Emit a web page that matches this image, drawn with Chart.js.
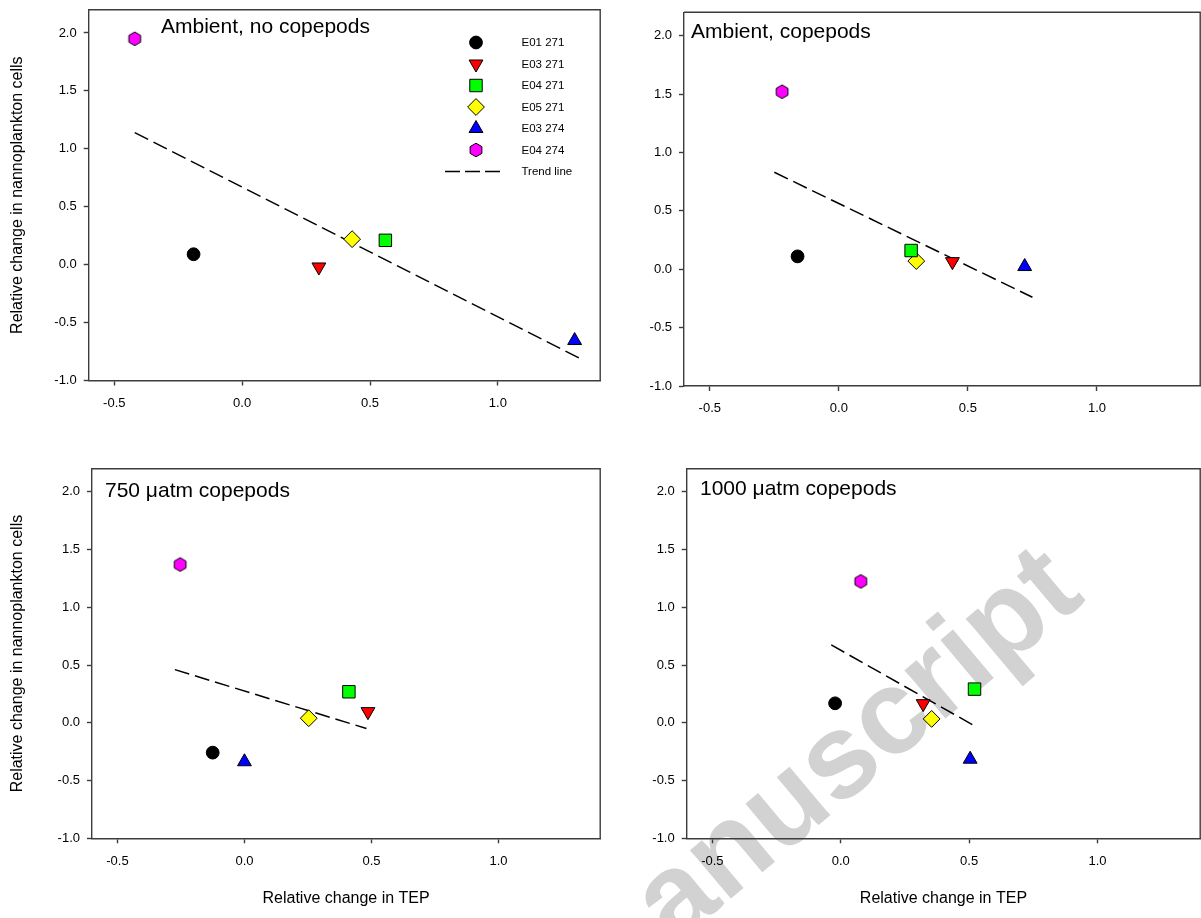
<!DOCTYPE html>
<html>
<head>
<meta charset="utf-8">
<script src="https://cdn.jsdelivr.net/npm/chart.js@4/dist/chart.umd.min.js"></script>
<style>
html,body{margin:0;padding:0;background:#fff;width:1201px;height:918px;overflow:hidden;position:relative;font-family:"Liberation Sans",Arial,sans-serif;}
#wm{position:absolute;left:673px;top:845px;font:bold 120px "Liberation Sans",Arial,sans-serif;line-height:120px;color:#d2d2d2;transform-origin:0 101.6px;transform:rotate(-40deg);white-space:nowrap;}
.panel{position:absolute;width:610px;height:459px;}
canvas{display:block;}
</style>
</head>
<body>
<div id="wm">anuscript</div>
<div class="panel" style="left:0;top:0"><canvas id="c0" width="610" height="459"></canvas></div>
<div class="panel" style="left:600px;top:0"><canvas id="c1" width="610" height="459"></canvas></div>
<div class="panel" style="left:0;top:459px"><canvas id="c2" width="610" height="459"></canvas></div>
<div class="panel" style="left:600px;top:459px"><canvas id="c3" width="610" height="459"></canvas></div>
<script>
// ---------- data ----------
const seriesNames = ['E01 271', 'E03 271', 'E04 271', 'E05 271', 'E03 274', 'E04 274'];
const trendName = 'Trend line';
const xTicks = [-0.5, 0.0, 0.5, 1.0];
const yTicks = [-1.0, -0.5, 0.0, 0.5, 1.0, 1.5, 2.0];
const xTitle = 'Relative change in TEP';
const yTitle = 'Relative change in nannoplankton cells';
const panelTitles = ['Ambient, no copepods', 'Ambient, copepods', '750 \u03bcatm copepods', '1000 \u03bcatm copepods'];

// values in the order of seriesNames
const ambientNoCopX = [-0.19, 0.30, 0.56, 0.43, 1.30, -0.42];
const ambientNoCopY = [0.09, -0.02, 0.21, 0.22, -0.655, 1.95];
const ambientNoCopTrendX = [-0.42, 1.33];
const ambientNoCopTrendY = [1.14, -0.82];

const ambientCopX = [-0.16, 0.44, 0.28, 0.30, 0.72, -0.22];
const ambientCopY = [0.11, 0.065, 0.16, 0.07, 0.023, 1.52];
const ambientCopTrendX = [-0.25, 0.75];
const ambientCopTrendY = [0.83, -0.24];

const co2750X = [-0.125, 0.486, 0.411, 0.253, 0.0, -0.253];
const co2750Y = [-0.258, 0.097, 0.269, 0.04, -0.337, 1.371];
const co2750TrendX = [-0.274, 0.48];
const co2750TrendY = [0.461, -0.049];

const co21000X = [-0.022, 0.321, 0.521, 0.354, 0.504, 0.078];
const co21000Y = [0.169, 0.166, 0.292, 0.034, -0.315, 1.225];
const co21000TrendX = [-0.037, 0.516];
const co21000TrendY = [0.675, -0.02];

// ---------- styles ----------
const FONT = '"Liberation Sans", Arial, sans-serif';
const AXIS_COLOR = '#3c3c3c';
const AXIS_W = 1.4;

function hexagonCanvas() {
  const c = document.createElement('canvas');
  c.width = 16; c.height = 16;
  const g = c.getContext('2d');
  g.beginPath();
  for (let k = 0; k < 6; k++) {
    const a = (-90 + 60 * k) * Math.PI / 180;
    const px = 8 + 6.8 * Math.cos(a), py = 8 + 6.8 * Math.sin(a);
    if (k === 0) g.moveTo(px, py); else g.lineTo(px, py);
  }
  g.closePath();
  g.fillStyle = '#ff00ff';
  g.fill();
  g.lineWidth = 1;
  g.strokeStyle = '#000';
  g.stroke();
  return c;
}
const hexImg = hexagonCanvas();

const markerStyles = [
  {pointStyle: 'circle', radius: 6.4, rotation: 0, fill: '#000000'},
  {pointStyle: 'triangle', radius: 8, rotation: 180, fill: '#ff0000'},
  {pointStyle: 'rect', radius: 8.8, rotation: 0, fill: '#00ff00'},
  {pointStyle: 'rectRot', radius: 8.4, rotation: 0, fill: '#ffff00'},
  {pointStyle: 'triangle', radius: 8, rotation: 0, fill: '#0000ff'},
  {pointStyle: hexImg, radius: 7, rotation: 0, fill: '#ff00ff'}
];

const framePlugin = {
  id: 'frame',
  beforeDatasetsDraw(chart) {
    const {ctx, chartArea: a} = chart;
    ctx.save();
    ctx.strokeStyle = AXIS_COLOR;
    ctx.lineWidth = AXIS_W;
    ctx.beginPath();
    ctx.moveTo(a.left, a.top);
    ctx.lineTo(a.right, a.top);
    ctx.lineTo(a.right, a.bottom);
    ctx.stroke();
    ctx.restore();
  }
};

const panelTitlePlugin = {
  id: 'panelTitle',
  afterDraw(chart, args, opts) {
    const ctx = chart.ctx;
    ctx.save();
    ctx.font = '21px ' + FONT;
    ctx.fillStyle = '#000';
    ctx.textAlign = 'left';
    ctx.textBaseline = 'alphabetic';
    ctx.fillText(opts.text, opts.x, opts.y);
    ctx.restore();
  }
};

const innerLegendPlugin = {
  id: 'innerLegend',
  afterDraw(chart, args, opts) {
    if (!opts.show) return;
    const ctx = chart.ctx;
    ctx.save();
    const rows = seriesNames.length + 1;
    for (let i = 0; i < rows; i++) {
      const y = opts.y0 + i * opts.step;
      if (i < seriesNames.length) {
        const ds = chart.data.datasets[i];
        ctx.fillStyle = ds.backgroundColor;
        ctx.strokeStyle = '#000';
        ctx.lineWidth = 1;
        Chart.helpers.drawPoint(ctx, {pointStyle: ds.pointStyle, radius: ds.pointRadius, rotation: ds.rotation, borderWidth: 1}, opts.mx, y);
      } else {
        ctx.strokeStyle = '#000';
        ctx.lineWidth = 1.5;
        ctx.setLineDash([15, 5]);
        ctx.beginPath();
        ctx.moveTo(opts.lx0, y);
        ctx.lineTo(opts.lx1, y);
        ctx.stroke();
        ctx.setLineDash([]);
      }
      ctx.fillStyle = '#000';
      ctx.font = '11.5px ' + FONT;
      ctx.textAlign = 'left';
      ctx.textBaseline = 'middle';
      ctx.fillText(i < seriesNames.length ? seriesNames[i] : trendName, opts.tx, y + 0.5);
    }
    ctx.restore();
  }
};

function makePanel(id, xs, ys, tx, ty, cfg) {
  const W = 610, H = 459;
  const datasets = seriesNames.map((name, i) => ({
    label: name,
    data: [{x: xs[i], y: ys[i]}],
    pointStyle: markerStyles[i].pointStyle,
    pointRadius: markerStyles[i].radius,
    rotation: markerStyles[i].rotation,
    backgroundColor: markerStyles[i].fill,
    borderColor: '#000000',
    borderWidth: 1,
    order: 0
  }));
  datasets.push({
    label: trendName,
    data: tx.map((v, i) => ({x: v, y: ty[i]})),
    showLine: true,
    pointRadius: 0,
    borderColor: '#000000',
    borderWidth: 1.5,
    borderDash: [15, 6],
    fill: false,
    order: 1
  });
  const tickFont = {family: FONT, size: 13};
  new Chart(document.getElementById(id), {
    type: 'scatter',
    data: {datasets},
    options: {
      responsive: false,
      animation: false,
      events: [],
      layout: {padding: {left: 0, top: cfg.T, right: W - cfg.R, bottom: 0}},
      plugins: {
        legend: {display: false},
        tooltip: {enabled: false},
        panelTitle: {text: cfg.title, x: cfg.titleX, y: cfg.titleY},
        innerLegend: cfg.legend || {show: false}
      },
      scales: {
        x: {
          type: 'linear', min: -0.6, max: 1.4,
          afterBuildTicks: s => { s.ticks = xTicks.map(v => ({value: v})); },
          afterFit: s => { s.height = H - cfg.B; s.paddingLeft = 0; s.paddingRight = 0; },
          ticks: {font: tickFont, color: '#000', padding: 10, maxRotation: 0, callback: v => Number(v).toFixed(1)},
          grid: {drawOnChartArea: false, drawTicks: true, tickLength: 5, color: AXIS_COLOR, tickWidth: AXIS_W},
          border: {display: true, color: AXIS_COLOR, width: AXIS_W},
          title: {display: !!cfg.xTitle, text: xTitle, color: '#000', font: {family: FONT, size: 16}, padding: {top: 0, bottom: 10}}
        },
        y: {
          type: 'linear', min: -1.0, max: 2.2,
          afterBuildTicks: s => { s.ticks = yTicks.map(v => ({value: v})); },
          afterFit: s => { s.width = cfg.L; s.paddingTop = 0; s.paddingBottom = 0; },
          ticks: {font: tickFont, color: '#000', padding: 7, callback: v => Number(v).toFixed(1)},
          grid: {drawOnChartArea: false, drawTicks: true, tickLength: 5, color: AXIS_COLOR, tickWidth: AXIS_W},
          border: {display: true, color: AXIS_COLOR, width: AXIS_W},
          title: {display: !!cfg.yTitle, text: yTitle, color: '#000', font: {family: FONT, size: 16}, padding: {top: 8, bottom: 0}}
        }
      }
    },
    plugins: [framePlugin, panelTitlePlugin, innerLegendPlugin]
  });
}

makePanel('c0', ambientNoCopX, ambientNoCopY, ambientNoCopTrendX, ambientNoCopTrendY,
  {L: 88.7, T: 7, R: 606, B: 380.5, yTitle: true, xTitle: false, title: panelTitles[0], titleX: 161, titleY: 33,
   legend: {show: true, mx: 476, tx: 521.5, y0: 42.5, step: 21.5, lx0: 445, lx1: 501}});
makePanel('c1', ambientCopX, ambientCopY, ambientCopTrendX, ambientCopTrendY,
  {L: 84, T: 12.3, R: 601.4, B: 386, yTitle: false, xTitle: false, title: panelTitles[1], titleX: 91, titleY: 38.3});
makePanel('c2', co2750X, co2750Y, co2750TrendX, co2750TrendY,
  {L: 92, T: 6, R: 608, B: 379.3, yTitle: true, xTitle: true, title: panelTitles[2], titleX: 105, titleY: 37.7});
makePanel('c3', co21000X, co21000Y, co21000TrendX, co21000TrendY,
  {L: 86.7, T: 6, R: 604.7, B: 379.3, yTitle: false, xTitle: true, title: panelTitles[3], titleX: 100, titleY: 36});
</script>
</body>
</html>
